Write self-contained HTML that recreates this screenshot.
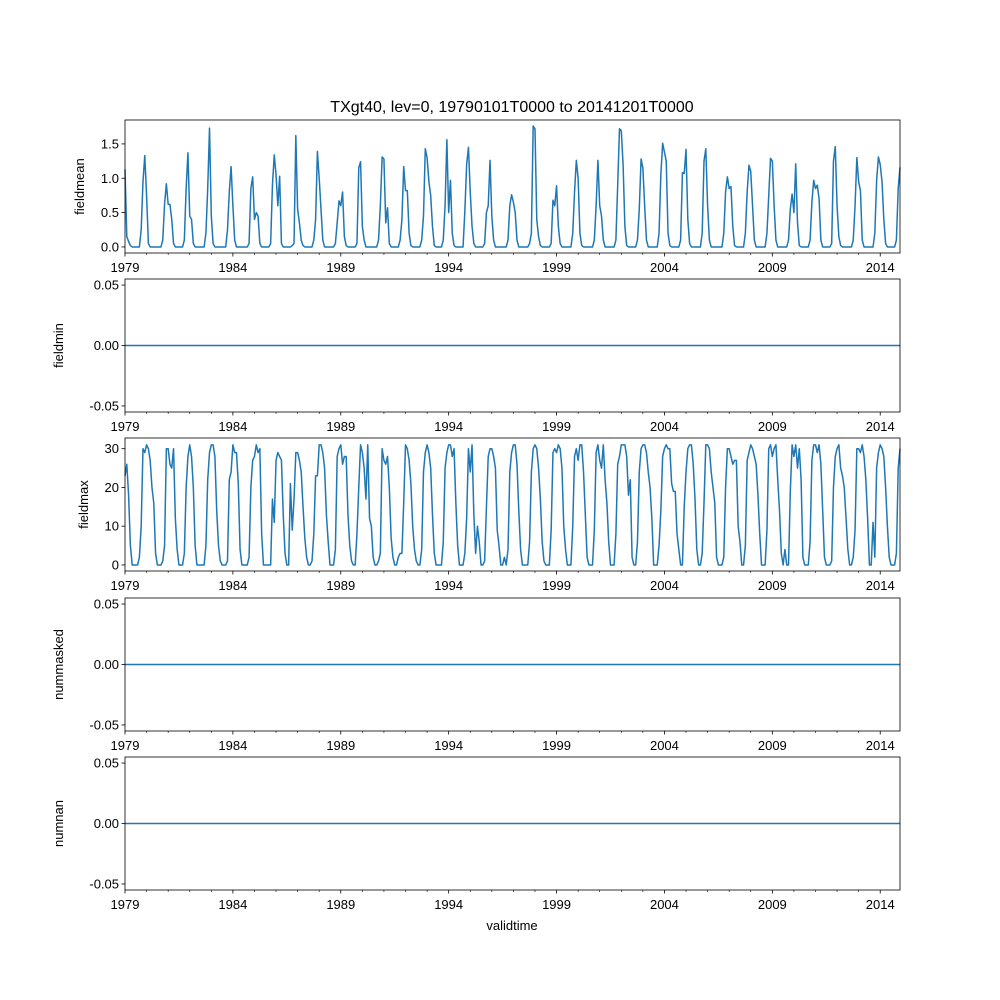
<!DOCTYPE html>
<html><head><meta charset="utf-8">
<style>
body{margin:0;background:#fff;}
svg{display:block;font-family:"Liberation Sans","DejaVu Sans",sans-serif;}
</style></head>
<body>
<svg id="fig" width="1000" height="1000" viewBox="0 0 1000 1000" xmlns="http://www.w3.org/2000/svg">
<rect width="1000" height="1000" fill="#fff"/>
<text x="512" y="112" font-size="16" text-anchor="middle">TXgt40, lev=0, 19790101T0000 to 20141201T0000</text>
<text x="512" y="930" font-size="13" text-anchor="middle">validtime</text>
</svg>
<script>
// ---- data ----
const yearLabels = ["1979","1984","1989","1994","1999","2004","2009","2014"];
const fieldmeanRows = [
[1.13,0.15,0.08,0.02,0,0,0,0,0,0.25,0.95,1.33],
[0.75,0.05,0,0,0,0,0,0,0,0.1,0.62,0.92],
[0.62,0.62,0.4,0.05,0,0,0,0,0,0.1,0.85,1.37],
[0.45,0.4,0.05,0,0,0,0,0,0,0.2,0.85,1.73],
[0.45,0.05,0,0,0,0,0,0,0,0.25,0.8,1.17],
[0.6,0.1,0,0,0,0,0,0,0,0.05,0.85,1.02],
[0.4,0.5,0.45,0.05,0,0,0,0,0,0.05,0.9,1.34],
[1.05,0.6,1.03,0.05,0,0,0,0,0,0.02,0.05,1.62],
[0.55,0.35,0.1,0.02,0,0,0,0,0,0.1,0.4,1.39],
[1.0,0.55,0.1,0,0,0,0,0,0,0.05,0.35,0.67],
[0.6,0.8,0.15,0.02,0,0,0,0,0,0.05,1.15,1.24],
[0.3,0.1,0,0,0,0,0,0,0,0.1,0.6,1.31],
[1.28,0.35,0.57,0.05,0,0,0,0,0,0.1,0.4,1.17],
[0.82,0.82,0.2,0.02,0,0,0,0,0,0.1,0.45,1.43],
[1.3,0.95,0.75,0.3,0.02,0,0,0,0,0.1,0.6,1.56],
[0.5,0.97,0.2,0.02,0,0,0,0,0,0.52,1.2,1.45],
[0.8,0.3,0.05,0,0,0,0,0,0.05,0.5,0.6,1.26],
[0.45,0.1,0,0,0,0,0,0,0,0.1,0.6,0.76],
[0.65,0.5,0.1,0,0,0,0,0,0,0.05,0.2,1.76],
[1.72,0.4,0.15,0.02,0,0,0,0,0,0.05,0.68,0.6],
[0.89,0.3,0.05,0,0,0,0,0,0,0.2,0.8,1.26],
[1.0,0.2,0.02,0,0,0,0,0,0,0.1,0.6,1.26],
[0.6,0.45,0.1,0,0,0,0,0,0,0.1,0.9,1.72],
[1.69,1.2,0.3,0.02,0,0,0,0,0,0.1,0.55,1.28],
[1.15,0.6,0.1,0,0,0,0,0,0,0.2,1.05,1.51],
[1.38,1.25,0.2,0.02,0,0,0,0,0,0.1,1.08,1.07],
[1.42,0.4,0.05,0,0,0,0,0,0,0.2,1.25,1.43],
[0.6,0.1,0,0,0,0,0,0,0,0.2,0.8,1.02],
[0.85,0.88,0.3,0.02,0,0,0,0,0,0.2,0.8,1.19],
[1.1,0.6,0.1,0,0,0,0,0,0,0.2,0.75,1.29],
[1.25,0.6,0.1,0,0,0,0,0,0,0.1,0.55,0.77],
[0.5,1.21,0.35,0.02,0,0,0,0,0,0.1,0.65,0.97],
[0.85,0.9,0.7,0.1,0,0,0,0,0,0.05,1.25,1.46],
[0.6,0.15,0.02,0,0,0,0,0,0,0.1,0.6,1.30],
[0.95,0.82,0.1,0,0,0,0,0,0,0.2,0.97,1.31],
[1.2,0.95,0.4,0.05,0,0,0,0,0,0.1,0.85,1.16]
];
const fieldmaxRows = [
[23,26,18,5,0,0,0,0,2,10,30,29],
[31,30,27,20,16,3,0,0,0,1,5,30],
[30,26,25,30,12,4,0,0,0,3,20,28],
[31,28,20,5,0,0,0,0,0,5,22,29],
[31,31,28,14,5,1,0,0,0,1,22,24],
[31,29,29,21,4,0,0,0,0,2,20,27],
[28,31,29,30,8,0,0,0,0,0,17,11],
[27,29,28,27,13,3,0,0,21,9,17,29],
[29,27,24,15,7,2,0,0,1,8,23,23],
[31,31,29,25,13,6,0,0,0,4,28,30],
[31,26,28,28,13,5,1,0,0,8,20,31],
[29,25,17,31,12,10,2,0,0,1,3,30],
[27,26,28,20,7,2,0,0,2,3,3,16],
[31,30,27,21,10,4,1,0,0,4,24,29],
[31,29,25,13,3,0,0,0,0,6,25,29],
[31,31,28,30,16,5,0,0,0,3,12,30],
[24,31,13,3,10,6,0,0,1,15,28,30],
[30,28,25,9,5,0,0,2,0,4,24,29],
[31,31,26,14,4,0,0,0,0,6,24,30],
[31,30,25,17,6,1,0,0,0,9,29,30],
[29,31,30,25,10,4,0,0,0,10,28,30],
[27,31,31,24,13,2,0,0,0,9,29,31],
[27,25,31,22,16,6,0,0,0,8,26,28],
[31,31,31,28,18,22,2,0,0,6,24,30],
[31,31,29,24,20,12,0,0,0,5,14,28],
[30,31,30,30,21,19,19,8,4,0,0,15],
[24,30,31,31,26,17,4,0,0,3,16,31],
[31,30,24,20,16,2,0,0,0,2,20,30],
[30,28,26,27,27,10,6,0,0,5,27,29],
[31,30,28,26,18,8,0,0,0,9,30,31],
[28,30,31,22,14,3,0,4,0,0,19,31],
[28,31,25,30,22,2,0,0,0,6,27,31],
[31,29,31,26,14,2,0,0,0,1,20,28],
[30,31,25,23,20,12,4,0,0,2,9,30],
[30,29,31,28,22,12,0,0,11,2,25,29],
[31,30,28,20,10,2,0,0,0,3,25,30]
];
const fieldmean = fieldmeanRows.flat();
const fieldmax = fieldmaxRows.flat();
const fieldmin = fieldmean.map(()=>0);
const nummasked = fieldmean.map(()=>0);
const numnan = fieldmean.map(()=>0);
const meanTicks = [0.0,0.5,1.0,1.5];
const maxTicks = [0,10,20,30];
const zeroTicks = [-0.05,0.00,0.05];

// ---- layout ----
const NS="http://www.w3.org/2000/svg";
const svg=document.getElementById('fig');
const L=125,R=900,H=133;
const N=fieldmean.length;
function xS(m){return L+m*(R-L)/(N-1);}
function mk(tag,attrs,parent){const e=document.createElementNS(NS,tag);for(const k in attrs)e.setAttribute(k,attrs[k]);(parent||svg).appendChild(e);return e;}

const panels=[
 {name:'fieldmean',top:120,data:fieldmean,lo:-0.088,hi:1.848,ticks:meanTicks,fmt:v=>v.toFixed(1),lx:84},
 {name:'fieldmin',top:279,data:fieldmin,lo:-0.055,hi:0.055,ticks:zeroTicks,fmt:v=>v.toFixed(2),lx:63},
 {name:'fieldmax',top:438,data:fieldmax,lo:-1.56,hi:32.76,ticks:maxTicks,fmt:v=>String(v),lx:88},
 {name:'nummasked',top:598,data:nummasked,lo:-0.055,hi:0.055,ticks:zeroTicks,fmt:v=>v.toFixed(2),lx:63},
 {name:'numnan',top:757,data:numnan,lo:-0.055,hi:0.055,ticks:zeroTicks,fmt:v=>v.toFixed(2),lx:63}
];

panels.forEach(p=>{
 const g=mk('g',{});
 
 
 const yS=v=>p.top+H-(v-p.lo)/(p.hi-p.lo)*H;
 // line
 let d='';
 p.data.forEach((v,i)=>{d+=(i?'L':'M')+xS(i).toFixed(2)+','+yS(v).toFixed(2);});
 const path=mk('path',{d:d,fill:'none',stroke:'#1f77b4','stroke-width':1.5,'stroke-linejoin':'round'},g);
 
 
 // frame
 const fr=mk('rect',{x:L,y:p.top,width:R-L,height:H,fill:'none',stroke:'#000','stroke-width':0.8},g);
 
 
 // y ticks
 p.ticks.forEach(t=>{
  const y=yS(t);
  mk('line',{x1:L-3.5,x2:L,y1:y,y2:y,stroke:'#000','stroke-width':0.8},g);
  const tx=mk('text',{x:L-6,y:y+4.5,'font-size':13,'text-anchor':'end'},g);
  tx.textContent=p.fmt(t);
  
  
 });
 // y label
 const yl=mk('text',{x:p.lx,y:p.top+H/2,'font-size':13,'text-anchor':'middle',transform:'rotate(-90 '+p.lx+' '+(p.top+H/2)+')'},g);
 yl.textContent=p.name;
 
 
 // x ticks
 const yb=p.top+H;
 for(let yr=0;yr<36;yr++){
  const x=xS(yr*12);
  const major=yr%5===0;
  mk('line',{x1:x,x2:x,y1:yb,y2:yb+(major?3.5:2),stroke:'#000','stroke-width':major?0.8:0.6},g);
 }
 yearLabels.forEach((lab,k)=>{
  const x=xS(k*60);
  const tx=mk('text',{x:x,y:yb+19,'font-size':13,'text-anchor':'middle'},g);
  tx.textContent=lab;
  
  
 });
});
</script>
</body></html>
